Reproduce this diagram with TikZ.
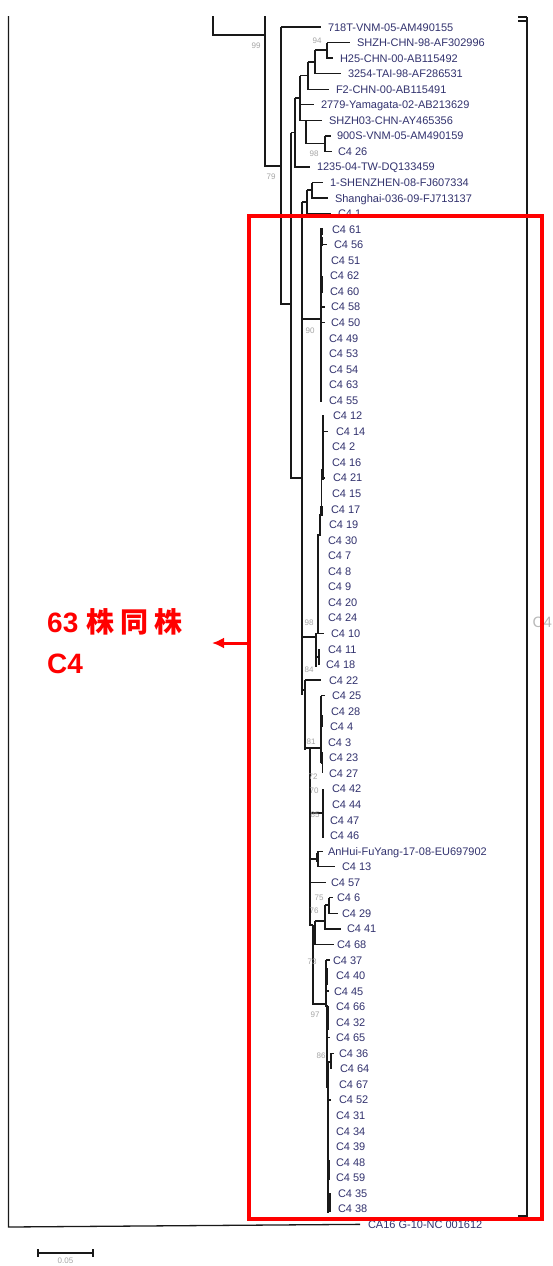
\documentclass[tikz,border=0pt]{standalone}
\usepackage{fontspec}
\setmainfont{Liberation Sans}
\newfontfamily\cjkfont{Noto Sans CJK SC}
\usetikzlibrary{arrows.meta}
\definecolor{labc}{RGB}{50,50,110}
\definecolor{bsc}{RGB}{165,165,165}
\definecolor{treec}{RGB}{25,25,25}
\begin{document}
\begin{tikzpicture}[x=1pt,y=-1pt,
 lab/.style={anchor=west,inner sep=0pt,outer sep=0pt,text height=8pt,text depth=0pt,text=labc,font=\fontsize{11}{11}\selectfont},
 bsl/.style={inner sep=0pt,text=bsc,font=\fontsize{8}{8}\selectfont},
 br/.style={draw=treec,line width=1.3pt},
 thk/.style={draw=treec,line width=2.4pt},
 redtxt/.style={anchor=west,inner sep=0pt,text=red,text height=20pt,text depth=0pt,font=\fontsize{28}{28}\selectfont\bfseries}]
\path[use as bounding box, fill=white] (0,0) rectangle (553,1266);
\clip (0,0) rectangle (553,1266);
% ---------- leaf labels ----------
\node[lab] (n0) at (328,27) {718T-VNM-05-AM490155};
\node[lab] (n1) at (357,42.55) {SHZH-CHN-98-AF302996};
\node[lab] (n2) at (340,58.1) {H25-CHN-00-AB115492};
\node[lab] (n3) at (348,73.65) {3254-TAI-98-AF286531};
\node[lab] (n4) at (336,89.2) {F2-CHN-00-AB115491};
\node[lab] (n5) at (321,104.75) {2779-Yamagata-02-AB213629};
\node[lab] (n6) at (329,120.3) {SHZH03-CHN-AY465356};
\node[lab] (n7) at (337,135.85) {900S-VNM-05-AM490159};
\node[lab] (n8) at (338,151.4) {C4 26};
\node[lab] (n9) at (317,166.95) {1235-04-TW-DQ133459};
\node[lab] (n10) at (330,182.5) {1-SHENZHEN-08-FJ607334};
\node[lab] (n11) at (335,198.05) {Shanghai-036-09-FJ713137};
\node[lab] (n12) at (338,213.6) {C4 1};
\node[lab] (n13) at (332,229.15) {C4 61};
\node[lab] (n14) at (334,244.7) {C4 56};
\node[lab] (n15) at (331,260.25) {C4 51};
\node[lab] (n16) at (330,275.8) {C4 62};
\node[lab] (n17) at (330,291.35) {C4 60};
\node[lab] (n18) at (331,306.9) {C4 58};
\node[lab] (n19) at (331,322.45) {C4 50};
\node[lab] (n20) at (329,338.0) {C4 49};
\node[lab] (n21) at (329,353.55) {C4 53};
\node[lab] (n22) at (329,369.1) {C4 54};
\node[lab] (n23) at (329,384.65) {C4 63};
\node[lab] (n24) at (329,400.2) {C4 55};
\node[lab] (n25) at (333,415.75) {C4 12};
\node[lab] (n26) at (336,431.3) {C4 14};
\node[lab] (n27) at (332,446.85) {C4 2};
\node[lab] (n28) at (332,462.4) {C4 16};
\node[lab] (n29) at (333,477.95) {C4 21};
\node[lab] (n30) at (332,493.5) {C4 15};
\node[lab] (n31) at (331,509.05) {C4 17};
\node[lab] (n32) at (329,524.6) {C4 19};
\node[lab] (n33) at (328,540.15) {C4 30};
\node[lab] (n34) at (328,555.7) {C4 7};
\node[lab] (n35) at (328,571.25) {C4 8};
\node[lab] (n36) at (328,586.8) {C4 9};
\node[lab] (n37) at (328,602.35) {C4 20};
\node[lab] (n38) at (328,617.9) {C4 24};
\node[lab] (n39) at (331,633.45) {C4 10};
\node[lab] (n40) at (328,649.0) {C4 11};
\node[lab] (n41) at (326,664.55) {C4 18};
\node[lab] (n42) at (329,680.1) {C4 22};
\node[lab] (n43) at (332,695.65) {C4 25};
\node[lab] (n44) at (331,711.2) {C4 28};
\node[lab] (n45) at (330,726.75) {C4 4};
\node[lab] (n46) at (328,742.3) {C4 3};
\node[lab] (n47) at (329,757.85) {C4 23};
\node[lab] (n48) at (329,773.4) {C4 27};
\node[lab] (n49) at (332,788.95) {C4 42};
\node[lab] (n50) at (332,804.5) {C4 44};
\node[lab] (n51) at (330,820.05) {C4 47};
\node[lab] (n52) at (330,835.6) {C4 46};
\node[lab] (n53) at (328,851.15) {AnHui-FuYang-17-08-EU697902};
\node[lab] (n54) at (342,866.7) {C4 13};
\node[lab] (n55) at (331,882.25) {C4 57};
\node[lab] (n56) at (337,897.8) {C4 6};
\node[lab] (n57) at (342,913.35) {C4 29};
\node[lab] (n58) at (347,928.9) {C4 41};
\node[lab] (n59) at (337,944.45) {C4 68};
\node[lab] (n60) at (333,960.0) {C4 37};
\node[lab] (n61) at (336,975.55) {C4 40};
\node[lab] (n62) at (334,991.1) {C4 45};
\node[lab] (n63) at (336,1006.65) {C4 66};
\node[lab] (n64) at (336,1022.2) {C4 32};
\node[lab] (n65) at (336,1037.75) {C4 65};
\node[lab] (n66) at (339,1053.3) {C4 36};
\node[lab] (n67) at (340,1068.85) {C4 64};
\node[lab] (n68) at (339,1084.4) {C4 67};
\node[lab] (n69) at (339,1099.95) {C4 52};
\node[lab] (n70) at (336,1115.5) {C4 31};
\node[lab] (n71) at (336,1131.05) {C4 34};
\node[lab] (n72) at (336,1146.6) {C4 39};
\node[lab] (n73) at (336,1162.15) {C4 48};
\node[lab] (n74) at (336,1177.7) {C4 59};
\node[lab] (n75) at (338,1193.25) {C4 35};
\node[lab] (n76) at (338,1208.8) {C4 38};
\node[lab] (n77) at (368,1224.35) {CA16 G-10-NC 001612};
% ---------- outer tree ----------
\draw[br] (8.5,16) -- (8.5,1227) -- ([xshift=-8pt]n77.west);
\draw[br] (213,16) -- (213,35) -- (265,35);
\draw[br] (265,16) -- (265,166) -- (281,166);
\draw[br] (281,27) -- (281,304) -- (291,304);
\draw[br] (281,27) -- ([xshift=-7pt]n0.west);
\draw[br] (291,132.5) -- (291,478) -- (302,478);
\draw[br] (291,132.5) -- (295,132.5);
\draw[br] (295,98) -- (295,166.95) -- ([xshift=-7pt]n9.west);
\draw[br] (295,98) -- (300,98);
\draw[br] (300,75.6) -- (300,120.3) -- ([xshift=-7pt]n6.west);
\draw[br] (300,104.75) -- ([xshift=-7pt]n5.west);
\draw[br] (300,75.6) -- (308,75.6);
\draw[br] (308,62) -- (308,89.2) -- ([xshift=-7pt]n4.west);
\draw[br] (308,62) -- (315,62);
\draw[br] (315,50) -- (315,73.65) -- ([xshift=-7pt]n3.west);
\draw[br] (315,50) -- (327,50);
\draw[br] (327,42.55) -- (327,58.1) -- ([xshift=-7pt]n2.west);
\draw[br] (327,42.55) -- ([xshift=-7pt]n1.west);
\draw[br] (306,120.3) -- (306,143.6) -- (325,143.6);
\draw[br] (325,135.85) -- (325,151.4) -- ([xshift=-6pt]n8.west);
\draw[br] (325,135.85) -- ([xshift=-6pt]n7.west);
% Shenzhen / Shanghai / C4 1
\draw[br] (302,202) -- (302,695);
\draw[br] (302,202) -- (307,202);
\draw[br] (307,190) -- (307,213.6) -- ([xshift=-7pt]n12.west);
\draw[br] (307,190) -- (312,190);
\draw[br] (312,182.5) -- (312,198.05) -- ([xshift=-7pt]n11.west);
\draw[br] (312,182.5) -- ([xshift=-7pt]n10.west);
% cluster 1
\draw[br] (302,319) -- (321,319);
\draw[br] (321,228) -- (321,402);
\draw[thk] (322,228) -- (322,235);
\draw[thk] (322,237) -- (322,246);
\draw[br] (321,244.7) -- ([xshift=-7pt]n14.west);
\draw[thk] (322,276) -- (322,293);
\draw[br] (321,306.9) -- ([xshift=-6pt]n18.west);
\draw[br] (321,322.45) -- ([xshift=-6pt]n19.west);
% cluster 2
\draw[br] (323,415) -- (323,470) -- (321.5,470) -- (321.5,515) -- (320,515) -- (320,535) -- (318,535) -- (318,633);
\draw[thk] (323,437) -- (323,452);
\draw[thk] (323,463) -- (323,480);
\draw[thk] (321.5,506) -- (321.5,516);
\draw[thk] (320,515) -- (320,535);
\draw[draw=treec,line width=1.8pt] (318,540) -- (318,630);
\draw[br] (323,431.3) -- ([xshift=-8pt]n26.west);
\draw[br] (323,477.95) -- ([xshift=-8pt]n29.west);
\draw[br] (302,637) -- (316,637);
\draw[br] (316,633) -- (316,667);
\draw[br] (316,633.45) -- ([xshift=-7pt]n39.west);
\draw[br] (316,657) -- (319,657);
\draw[br] (319,649) -- (319,665);
% C4 22
\draw[br] (302,690) -- (305,690);
\draw[br] (305,680.1) -- (305,750);
\draw[br] (305,680.1) -- ([xshift=-8pt]n42.west);
% cluster 3
\draw[br] (305,748) -- (321,748);
\draw[br] (321,695.65) -- (321,763);
\draw[br] (321,695.65) -- ([xshift=-7pt]n43.west);
\draw[thk] (322,715) -- (322,727);
\draw[thk] (321,733) -- (321,747);
\draw[br] (321,763) -- (322.5,763);
\draw[br] (322.5,752) -- (322.5,773.4);
% cluster 4
\draw[br] (310,748) -- (310,925) -- (313,925);
\draw[br] (310,813) -- (323,813);
\draw[br] (323,789) -- (323,838);
\draw[thk] (323,800) -- (323,811);
% AnHui / C4 13
\draw[br] (310,859) -- (318,859);
\draw[br] (318,851.15) -- (318,866.7) -- ([xshift=-7pt]n54.west);
\draw[br] (318,851.15) -- ([xshift=-5pt]n53.west);
\draw[thk] (317,853) -- (317,862);
% C4 57
\draw[br] (310,882.25) -- ([xshift=-5pt]n55.west);
% cluster 5
\draw[br] (313,925) -- (313,1004) -- (326,1004);
\draw[br] (313,932) -- (315,932);
\draw[br] (315,921) -- (315,944.45) -- ([xshift=-3pt]n59.west);
\draw[br] (315,921) -- (325,921);
\draw[br] (325,905) -- (325,928.9) -- ([xshift=-6pt]n58.west);
\draw[br] (325,905) -- (329,905);
\draw[br] (329,897.8) -- (329,913.35) -- ([xshift=-4pt]n57.west);
\draw[br] (329,897.8) -- ([xshift=-4pt]n56.west);
% cluster 6
\draw[br] (326,960) -- (326,1006) -- (327,1006) -- (327,1087) -- (328,1087) -- (328,1213);
\draw[br] (326,960) -- ([xshift=-3pt]n60.west);
\draw[thk] (327,968) -- (327,985);
\draw[br] (326,991.1) -- (329,991.1);
\draw[thk] (327.5,1006) -- (327.5,1030);
\draw[br] (327,1037.75) -- (330,1037.75);
\draw[br] (327,1062) -- (331,1062);
\draw[br] (331,1053.3) -- (331,1068.85);
\draw[br] (331,1053.3) -- (334,1053.3);
\draw[thk] (327.5,1062) -- (327.5,1088);
\draw[br] (328,1099.95) -- (331,1099.95);
\draw[thk] (328.5,1160) -- (328.5,1180);
\draw[thk] (329.5,1193) -- (329.5,1212);
% ---------- bootstrap values ----------
\node[bsl] (b1) at (256,46) {99};
\node[bsl] (b2) at (271,177) {79};
\node[bsl] (b3) at (317,41) {94};
\node[bsl] (b4) at (314,154) {98};
\node[bsl] (b5) at (310,331) {90};
\node[bsl] (b6) at (309,623) {98};
\node[bsl] (b7) at (309,670) {84};
\node[bsl] (b8) at (311,742) {81};
\node[bsl] (b9) at (313,777) {72};
\node[bsl] (b10) at (314,791) {70};
\node[bsl] (b11) at (315,815) {85};
\node[bsl] (b12) at (319,898) {75};
\node[bsl] (b13) at (314,911) {76};
\node[bsl] (b14) at (312,962) {73};
\node[bsl] (b15) at (315,1015) {97};
\node[bsl] (b16) at (321,1056) {86};
% ---------- right bracket ----------
\draw[br] (518,17) -- (527,17);
\draw[br] (518,21) -- (527,21);
\draw[br] (527,17) -- (527,1216) -- (518,1216);
\node[anchor=west,inner sep=0pt,text height=11pt,text depth=0pt,text=gray!55,font=\fontsize{15}{15}\selectfont] (cl) at (532.5,622) {C4};
% ---------- scale bar ----------
\coordinate (s1) at (38,1253);
\coordinate (s2) at (93,1253);
\draw[br] (s1) -- (s2);
\draw[br] ([yshift=4pt]s1) -- ([yshift=-4pt]s1);
\draw[br] ([yshift=4pt]s2) -- ([yshift=-4pt]s2);
\node[bsl] (sc) at (65.5,1261) {0.05};
% ---------- red highlight ----------
\node[draw=red,line width=3.5pt,anchor=north west,minimum width=293pt,minimum height=1003pt,inner sep=0pt,outer sep=0pt] (box) at (249,216) {};
\coordinate (tip) at (212,643);
\draw[red,line width=3pt,-{Latex[length=12pt,width=11pt]}] (box.west |- tip) -- (tip);
\node[redtxt] (t1) at (47,622) {63 {\cjkfont 株\hspace{6pt}同\hspace{6pt}株}};
\node[redtxt] (t2) at (47,663) {C4};
\end{tikzpicture}
\end{document}
